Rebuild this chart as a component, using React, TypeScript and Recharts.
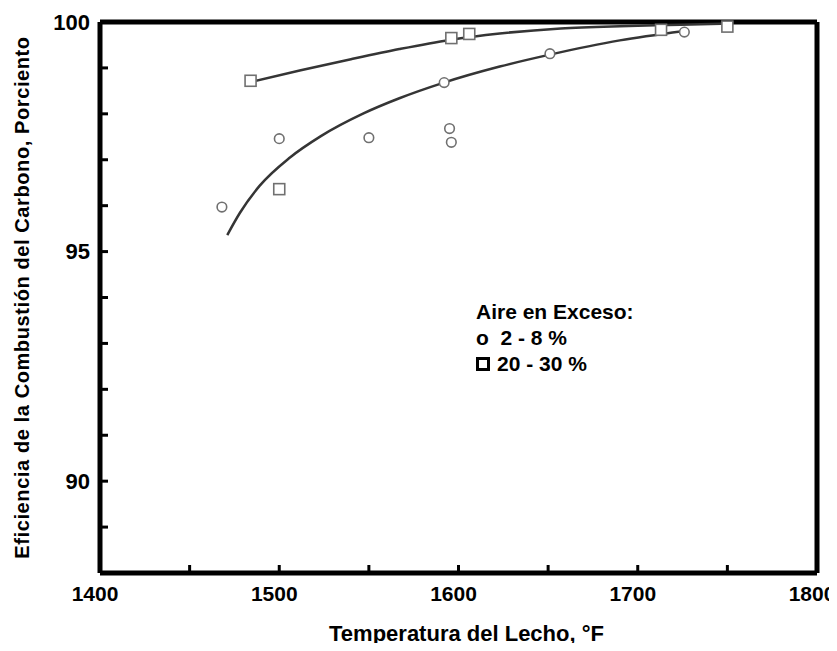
import React from 'react'
import { ComposedChart, Line, Scatter, XAxis, YAxis, ReferenceLine } from 'recharts'

// puntos medidos, aire en exceso 2 - 8 %
const circleTemp = [1468, 1500, 1550, 1595, 1596, 1592, 1651, 1726]
const circleEff = [95.97, 97.46, 97.48, 97.68, 97.38, 98.68, 99.31, 99.78]

// puntos medidos, aire en exceso 20 - 30 %
const squareTemp = [1484, 1500, 1596, 1606, 1713, 1750]
const squareEff = [98.72, 96.36, 99.65, 99.74, 99.83, 99.9]

// curvas dibujadas a mano
const lowerTemp = [1471, 1478, 1489, 1506, 1523, 1547, 1567, 1591, 1623, 1651, 1690, 1725]
const lowerEff = [95.36, 95.84, 96.43, 97.05, 97.51, 98.01, 98.34, 98.67, 99.03, 99.29, 99.6, 99.8]
const upperTemp = [1484, 1512, 1540, 1567, 1595, 1623, 1657, 1690, 1724, 1752]
const upperEff = [98.69, 98.95, 99.19, 99.41, 99.61, 99.75, 99.86, 99.91, 99.94, 99.97]

const xTicks = [1400, 1450, 1500, 1550, 1600, 1650, 1700, 1750, 1800]
const yTicks = [88, 89, 90, 91, 92, 93, 94, 95, 96, 97, 98, 99, 100]

const zip = (xs: number[], ys: number[]) => xs.map((x, i) => ({ x, y: ys[i] }))

const circles = zip(circleTemp, circleEff)
const squares = zip(squareTemp, squareEff)
const lower = zip(lowerTemp, lowerEff)
const upper = zip(upperTemp, upperEff)

const sans = "'Liberation Sans', Arial, sans-serif"

const CircleDot = (p: any) => (
  <circle cx={p.cx} cy={p.cy} r={4.8} fill="#fff" stroke="#707070" strokeWidth={1.6} />
)
const SquareDot = (p: any) => (
  <rect x={p.cx - 5.5} y={p.cy - 5.5} width={11} height={11} fill="#fff" stroke="#707070" strokeWidth={1.6} />
)

const legendStyle: React.CSSProperties = {
  position: 'absolute',
  left: 476,
  top: 299,
  fontFamily: sans,
  fontWeight: 'bold',
  fontSize: 21,
  color: '#000',
  lineHeight: '26px',
  whiteSpace: 'nowrap',
}

export default function App() {
  return (
    <div style={{ position: 'relative', margin: -8, width: 837, height: 651 }}>
      <ComposedChart width={837} height={651} margin={{ top: 22, right: 20, left: 0, bottom: 0 }}>
        <XAxis
          type="number"
          dataKey="x"
          domain={[1400, 1800]}
          ticks={xTicks}
          interval={0}
          tickFormatter={(v: number) => (v % 100 === 0 ? String(v) : '')}
          tickSize={-8}
          tickMargin={21}
          height={78}
          axisLine={{ stroke: '#000', strokeWidth: 5 }}
          tickLine={{ stroke: '#000', strokeWidth: 3 }}
          tick={{ fill: '#000', fontSize: 21, fontWeight: 'bold', fontFamily: sans, dx: -5 }}
          label={{
            value: 'Temperatura del Lecho,  °F',
            position: 'insideBottom',
            offset: 10,
            dx: 8,
            style: { fill: '#000', fontSize: 22, fontWeight: 'bold', fontFamily: sans },
          }}
        />
        <YAxis
          type="number"
          dataKey="y"
          domain={[88, 100]}
          ticks={yTicks}
          interval={0}
          tickFormatter={(v: number) => (v % 5 === 0 ? String(v) : '')}
          tickSize={-8}
          tickMargin={18}
          width={100}
          axisLine={{ stroke: '#000', strokeWidth: 5 }}
          tickLine={{ stroke: '#000', strokeWidth: 3 }}
          tick={{ fill: '#000', fontSize: 22, fontWeight: 'bold', fontFamily: sans }}
          label={{
            value: 'Eficiencia de la Combustión del Carbono, Porciento',
            angle: -90,
            position: 'insideLeft',
            offset: 22,
            style: { textAnchor: 'middle', fill: '#000', fontSize: 20, fontWeight: 'bold', fontFamily: sans, letterSpacing: 0.6 },
          }}
        />
        <ReferenceLine y={100} stroke="#000" strokeWidth={5} />
        <ReferenceLine x={1800} stroke="#000" strokeWidth={5} />
        <Line data={lower} dataKey="y" type="monotone" stroke="#353535" strokeWidth={2.5} dot={false} isAnimationActive={false} />
        <Line data={upper} dataKey="y" type="monotone" stroke="#353535" strokeWidth={2.5} dot={false} isAnimationActive={false} />
        <Scatter data={circles} dataKey="y" shape={CircleDot} isAnimationActive={false} />
        <Scatter data={squares} dataKey="y" shape={SquareDot} isAnimationActive={false} />
      </ComposedChart>
      <div style={legendStyle}>
        <div>Aire en Exceso:</div>
        <div>o&nbsp;&nbsp;2 - 8 %</div>
        <div>
          <span
            style={{
              display: 'inline-block',
              width: 8,
              height: 8,
              border: '3px solid #000',
              marginRight: 7,
              verticalAlign: '0px',
            }}
          />
          20 - 30 %
        </div>
      </div>
    </div>
  )
}
